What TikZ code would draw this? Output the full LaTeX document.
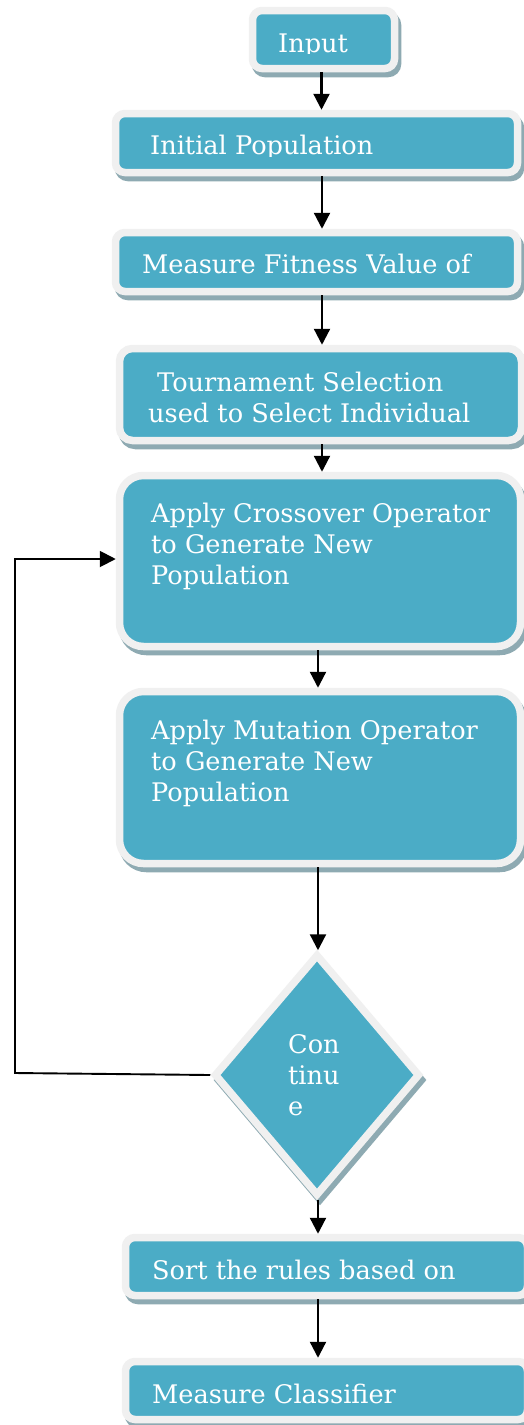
\documentclass[tikz,border=0pt]{standalone}
\usepackage{fontspec}
\setmainfont{DejaVu Serif}
\usetikzlibrary{arrows.meta,shapes.geometric}
\definecolor{tealfill}{HTML}{4BACC6}
\definecolor{rim}{HTML}{F0F0F0}
\definecolor{shade}{HTML}{8EAAB2}
\begin{document}
\begin{tikzpicture}[x=1pt,y=-1pt,
  boxbase/.style={draw=rim, fill=tealfill, line width=7.5pt, inner sep=0pt,
    preaction={draw=shade, fill=shade, transform canvas={shift={(3pt,-5pt)}}}},
  box/.style={boxbase, rectangle, rounded corners=#1},
  decision/.style={boxbase, diamond, minimum width=206pt, minimum height=242pt},
  txt/.style={text=white, anchor=base west, inner sep=0pt, align=left,
    font=\fontsize{25.6}{30.8}\selectfont},
  arr/.style={line width=2.3pt, -{Triangle[width=16pt,length=16pt]}},
  loopline/.style={line width=1.9pt, -{Triangle[width=16pt,length=16pt]}}]
\useasboundingbox (0,0) rectangle (524,1425);
\fill[white] (0,0) rectangle (524,1425);

% boxes
\node[box=9.5pt, minimum width=142pt, minimum height=58pt] (input) at (323.5,39.5) {};
\node[box=9.5pt, minimum width=402pt, minimum height=59pt] (init) at (316.5,143) {};
\node[box=9.5pt, minimum width=402pt, minimum height=59pt] (meas) at (316.5,262) {};
\node[box=13pt, minimum width=402pt, minimum height=92pt] (tour) at (320.5,394.5) {};
\node[box=24pt, minimum width=401pt, minimum height=171pt] (cross) at (320,561) {};
\node[box=24pt, minimum width=401pt, minimum height=172pt] (mut) at (320,777.5) {};
\node[decision] (dec) at (317,1075) {};
\node[box=9.5pt, minimum width=402pt, minimum height=58pt] (sort) at (326.5,1266.5) {};
\node[box=9.5pt, minimum width=402pt, minimum height=58pt] (cls) at (326.5,1390.5) {};

% texts (anchor = baseline of the last line)
\begin{scope}
  \clip (0,0) rectangle (524,53);
  \node[txt] (tinput) at (278,52) {Input};
\end{scope}
\begin{scope}
  \clip (0,100) rectangle (524,156);
  \node[txt] (tinit) at (150,154.5) {Initial Population};
\end{scope}
\node[txt] (tmeas) at (142,273) {Measure Fitness Value of};
\node[txt] (ttour) at (148,422) {\hspace*{9pt}Tournament Selection\\used to Select Individual};
\node[txt] (tcross) at (151,584) {Apply Crossover Operator\\to Generate New\\Population};
\node[txt] (tmut) at (151,801) {Apply Mutation Operator\\to Generate New\\Population};
\node[txt] (tdec) at (288,1115) {Con\\tinu\\e};
\node[txt] (tsort) at (152,1279) {Sort the rules based on};
\node[txt] (tcls) at (152,1403) {Measure Classifier};

% columns for the connectors
\coordinate (ca) at (321.5,0);
\coordinate (cb) at (322,0);
\coordinate (cc) at (318,0);

\draw[arr] (input.south -| ca) -- (init.north -| ca);
\draw[arr] (init.south -| cb) -- (meas.north -| cb);
\draw[arr] (meas.south -| cb) -- (tour.north -| cb);
\draw[arr] (tour.south -| cb) -- (cross.north -| cb);
\draw[arr] (cross.south -| cc) -- (mut.north -| cc);
\draw[arr] (mut.south -| cc) -- (dec.north -| cc);
\draw[arr] (dec.south -| cc) -- (sort.north -| cc);
\draw[arr] (sort.south -| cc) -- (cls.north -| cc);

% loop back
\coordinate (lb) at (15,1073);
\coordinate (lt) at (15,559);
\draw[loopline] (dec.west) -- (lb) -- (lt) -- (lt -| cross.west);
\end{tikzpicture}
\end{document}
